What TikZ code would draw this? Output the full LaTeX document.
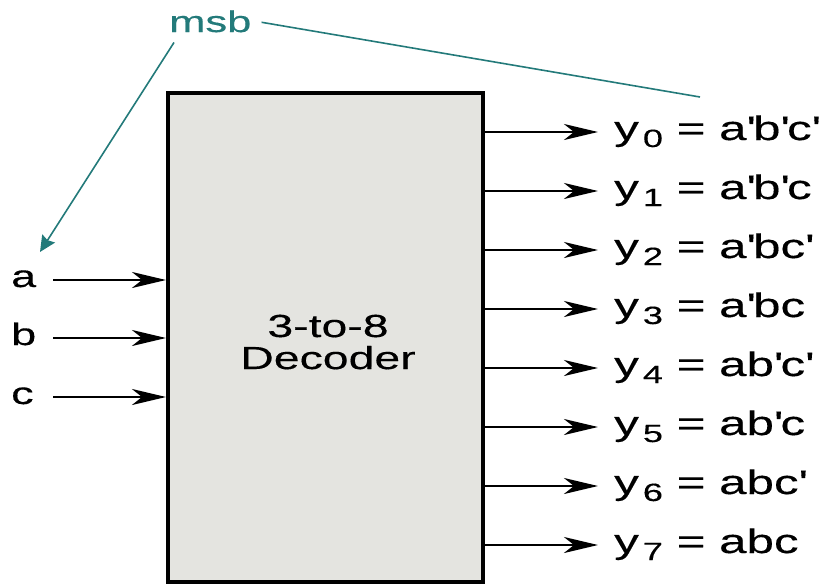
\documentclass[tikz,border=0pt]{standalone}
\usepackage{fontspec}
\setmainfont{Liberation Sans}[FakeStretch=1.45,FakeBold=0.3]
\usetikzlibrary{arrows.meta}
\definecolor{boxgray}{RGB}{228,228,224}
\definecolor{msbteal}{RGB}{35,122,122}
\newcommand\pr{\textquotesingle}
\newcommand\ysub[1]{y\kern4pt\raisebox{-7pt}{\fontsize{25}{25}\selectfont #1}}
\tikzset{
  arr/.style={line width=2.8pt,-{Stealth[length=34pt,width=16pt,inset=10pt]}},
  outlbl/.style={anchor=base west,inner sep=0pt,font=\fontsize{34}{34}\selectfont},
  inlbl/.style={anchor=base west,inner sep=0pt,font=\fontsize{31}{31}\selectfont},
  tealline/.style={draw=msbteal,line width=1.6pt},
}
\begin{document}
\begin{tikzpicture}[x=1pt,y=-1pt]
\useasboundingbox (0,0) rectangle (833,584);
\begin{scope}
\clip (0,0) rectangle (833,584);
% decoder box
\node[draw,fill=boxgray,line width=4pt,minimum width=315pt,minimum height=489pt,inner sep=0pt] (dec) at (325.5,337.5) {};
\node[align=center,inner sep=0pt,font=\fontsize{32}{32}\selectfont] (dectext) at (328,342) {3-to-8\\Decoder};
% inputs
\foreach \n/\t/\r in {a/a/280,b/b/338,c/c/397}{
  \node[inlbl] (l\n) at (11,\r+7) {\t};
  \coordinate (i\n) at (53,\r);
  \draw[arr] (i\n) -- (i\n -| dec.west);
}
% outputs
\foreach \i/\t in {0/{a\pr b\pr c\pr},1/{a\pr b\pr c},2/{a\pr bc\pr},3/{a\pr bc},4/{ab\pr c\pr},5/{ab\pr c},6/{abc\pr},7/{abc}}{
  \coordinate (o\i) at (598,132+59*\i);
  \draw[arr] (o\i -| dec.east) -- (o\i);
  \node[outlbl] (y\i) at (614,140+59*\i) {\ysub{\i} = \t};
}
% msb
\node[anchor=base west,inner sep=0pt,text=msbteal,font=\fontsize{30}{30}\selectfont] (msb) at (169,32) {msb};
\coordinate (msbend) at (700,97);
\coordinate (msbtip) at (40,252);
\draw[tealline] ([xshift=10pt,yshift=-1pt]msb.east) -- (msbend);
\draw[tealline,-{Stealth[length=16pt,width=15pt,inset=2pt]},fill=msbteal] ([xshift=5pt,yshift=-10pt]msb.south west) -- (msbtip);
\end{scope}
\end{tikzpicture}
\end{document}
